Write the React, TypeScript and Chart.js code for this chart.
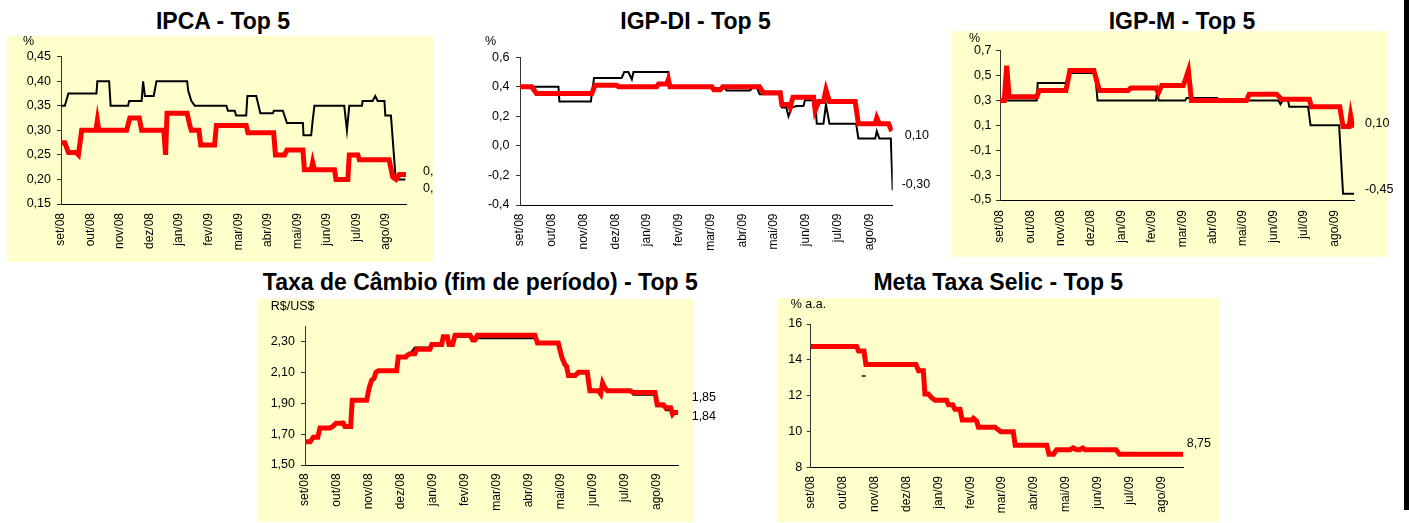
import React, { useEffect, useRef } from "react";
import { Chart, registerables } from "chart.js";

Chart.register(...registerables);

const FONT = '"Liberation Sans", Arial, Helvetica, sans-serif';
const RED = "#FF0000";
const BLACK = "#000000";
const YELLOW = "#FFFFCC";
const AXIS = "#333333";

type Pt = [number, number | null];

// x = months since set/08 (0 = set/08, 11 = ago/09)
const monthLabels = ["set/08", "out/08", "nov/08", "dez/08", "jan/09", "fev/09", "mar/09", "abr/09", "mai/09", "jun/09", "jul/09", "ago/09"];

// ---------- IPCA ----------
const ipcaTicks = [0.15, 0.2, 0.25, 0.3, 0.35, 0.4, 0.45];
const ipcaMediana: Pt[] = [
  [0, 0.35], [0.13, 0.35], [0.25, 0.375], [1.2, 0.375], [1.23, 0.4], [1.63, 0.4], [1.68, 0.35], [2.27, 0.35], [2.31, 0.36],
  [2.73, 0.36], [2.78, 0.4], [2.84, 0.37], [3.14, 0.37], [3.23, 0.4], [4.27, 0.4], [4.31, 0.38], [4.41, 0.36], [4.53, 0.35],
  [5.6, 0.35], [5.65, 0.34], [5.88, 0.34], [5.93, 0.33], [6.27, 0.33], [6.31, 0.37], [6.61, 0.37], [6.75, 0.335], [7.17, 0.335],
  [7.21, 0.34], [7.51, 0.34], [7.65, 0.315], [8.19, 0.315], [8.21, 0.29], [8.47, 0.29], [8.52, 0.32], [8.58, 0.35], [9.59, 0.35],
  [9.68, 0.3], [9.76, 0.35], [10.19, 0.35], [10.21, 0.36], [10.55, 0.36], [10.64, 0.37], [10.72, 0.36], [10.95, 0.36],
  [10.98, 0.33], [11.17, 0.33], [11.32, 0.21], [11.4, 0.2], [11.66, 0.2],
];
const ipcaTop5: Pt[] = [
  [0, 0.275], [0.13, 0.275], [0.25, 0.255], [0.51, 0.255], [0.59, 0.25], [0.7, 0.3], [1.18, 0.3], [1.23, 0.32], [1.28, 0.3],
  [2.22, 0.3], [2.33, 0.325], [2.65, 0.325], [2.73, 0.3], [3.48, 0.3], [3.54, 0.25], [3.59, 0.335], [4.27, 0.335], [4.36, 0.31],
  [4.41, 0.3], [4.67, 0.3], [4.73, 0.27], [5.2, 0.27], [5.26, 0.31], [6.27, 0.31], [6.33, 0.295], [7.2, 0.295], [7.26, 0.25],
  [7.57, 0.25], [7.65, 0.26], [8.19, 0.26], [8.24, 0.22], [8.47, 0.22], [8.52, 0.235], [8.58, 0.22], [9.26, 0.22], [9.31, 0.2],
  [9.71, 0.2], [9.76, 0.25], [10.05, 0.25], [10.1, 0.24], [11.11, 0.24], [11.23, 0.205], [11.34, 0.2], [11.45, 0.21], [11.68, 0.21],
];
const ipcaEndText = ["0,21", "0,20"];
const ipcaEndValues = [0.21, 0.2];

// ---------- IGP-DI ----------
const igpdiTicks = [-0.4, -0.2, 0, 0.2, 0.4, 0.6];
const igpdiMediana: Pt[] = [
  [0, 0.4], [1.21, 0.4], [1.24, 0.3], [2.23, 0.3], [2.33, 0.46], [3.2, 0.46], [3.28, 0.5], [3.41, 0.5], [3.52, 0.45], [3.57, 0.5],
  [4.67, 0.5], [4.7, 0.4], [5.98, 0.4], [6.04, 0.39], [6.45, 0.39], [6.51, 0.375], [7.24, 0.375], [7.35, 0.4], [7.45, 0.4],
  [7.54, 0.35], [8.19, 0.35], [8.24, 0.26], [8.38, 0.26], [8.45, 0.2], [8.55, 0.26], [8.7, 0.27], [8.92, 0.27], [8.97, 0.31],
  [9.29, 0.31], [9.34, 0.15], [9.55, 0.15], [9.63, 0.28], [9.74, 0.15], [10.58, 0.15], [10.65, 0.05], [11.18, 0.05], [11.23, 0.1],
  [11.31, 0.05], [11.67, 0.05], [11.73, -0.3],
];
const igpdiTop5: Pt[] = [
  [0, 0.4], [0.37, 0.4], [0.52, 0.355], [2.26, 0.355], [2.36, 0.41], [3.04, 0.41], [3.1, 0.4], [4.3, 0.4], [4.36, 0.42],
  [4.62, 0.42], [4.67, 0.45], [4.72, 0.4], [6.04, 0.4], [6.1, 0.38], [6.3, 0.38], [6.38, 0.4], [7.54, 0.4], [7.66, 0.36],
  [8.19, 0.36], [8.24, 0.28], [8.45, 0.28], [8.5, 0.26], [8.59, 0.33], [9.24, 0.33], [9.29, 0.24], [9.4, 0.3], [9.55, 0.3],
  [9.63, 0.38], [9.74, 0.3], [10.55, 0.3], [10.65, 0.15], [11.18, 0.15], [11.23, 0.19], [11.31, 0.15], [11.6, 0.15], [11.7, 0.1],
];
const igpdiEndText = ["0,10", "-0,30"];
const igpdiEndValues = [0.1, -0.3];

// ---------- IGP-M ----------
const igpmTicks = [-0.5, -0.3, -0.1, 0.1, 0.3, 0.5, 0.7];
const igpmMediana: Pt[] = [
  [0, 0.3], [1.21, 0.3], [1.24, 0.44], [2.17, 0.44], [2.28, 0.52], [3.13, 0.52], [3.21, 0.3], [5.13, 0.3], [5.18, 0.38],
  [5.22, 0.3], [6.09, 0.3], [6.14, 0.32], [7.15, 0.32], [7.19, 0.3], [9.16, 0.3], [9.23, 0.27], [9.3, 0.3], [9.48, 0.3],
  [9.52, 0.25], [10.14, 0.25], [10.22, 0.1], [11.16, 0.1], [11.29, -0.45], [11.66, -0.45],
];
const igpmTop5: Pt[] = [
  [0, 0.3], [0.14, 0.3], [0.22, 0.58], [0.3, 0.33], [1.21, 0.33], [1.29, 0.38], [2.17, 0.38], [2.3, 0.54], [3.09, 0.54],
  [3.27, 0.38], [4.22, 0.38], [4.3, 0.4], [5.13, 0.4], [5.21, 0.36], [5.32, 0.42], [6.03, 0.42], [6.12, 0.48], [6.2, 0.54],
  [6.3, 0.3], [8.11, 0.3], [8.2, 0.35], [9.1, 0.35], [9.27, 0.31], [10.18, 0.31], [10.25, 0.25], [11.18, 0.25], [11.29, 0.09],
  [11.49, 0.09], [11.54, 0.18], [11.6, 0.1], [11.66, 0.1],
];
const igpmEndText = ["0,10", "-0,45"];
const igpmEndValues = [0.1, -0.45];

// ---------- Taxa de Câmbio ----------
const cambioTicks = [1.5, 1.6, 1.7, 1.8, 1.9, 2.0, 2.1, 2.2, 2.3, 2.4];
const cambioMediana: Pt[] = [
  [0, 1.65], [0.16, 1.65], [0.26, 1.68], [0.4, 1.68], [0.47, 1.74], [0.78, 1.74], [0.87, 1.75], [0.97, 1.77], [1.2, 1.78],
  [1.25, 1.75], [1.43, 1.75], [1.48, 1.92], [1.93, 1.92], [2.01, 2.0], [2.09, 2.05], [2.16, 2.06], [2.22, 2.1], [2.3, 2.11],
  [2.87, 2.11], [2.92, 2.2], [3.16, 2.2], [3.2, 2.21], [3.29, 2.22], [3.44, 2.26], [3.91, 2.26], [3.97, 2.28], [4.28, 2.28],
  [4.33, 2.33], [4.46, 2.33], [4.51, 2.28], [4.62, 2.28], [4.7, 2.33], [5.17, 2.33], [5.25, 2.31], [5.32, 2.31], [5.4, 2.32],
  [7.2, 2.32], [7.28, 2.29], [7.93, 2.29], [8.04, 2.18], [8.14, 2.16], [8.19, 2.12], [8.25, 2.08], [8.46, 2.08], [8.56, 2.1],
  [8.84, 2.1], [8.92, 1.98], [9.19, 1.98], [9.26, 1.95], [9.32, 2.02], [9.39, 2.0], [9.47, 1.98], [10.18, 1.98], [10.28, 1.955],
  [10.96, 1.955], [11.03, 1.88], [11.22, 1.88], [11.3, 1.855], [11.45, 1.855], [11.51, 1.82], [11.56, 1.85], [11.69, 1.85],
];
const cambioTop5: Pt[] = [
  [0, 1.65], [0.16, 1.65], [0.26, 1.68], [0.4, 1.68], [0.47, 1.74], [0.78, 1.74], [0.87, 1.75], [0.97, 1.77], [1.2, 1.77],
  [1.25, 1.75], [1.43, 1.75], [1.48, 1.92], [1.93, 1.92], [2.01, 2.0], [2.09, 2.05], [2.16, 2.06], [2.22, 2.1], [2.3, 2.11],
  [2.87, 2.11], [2.92, 2.2], [3.16, 2.2], [3.2, 2.21], [3.29, 2.22], [3.44, 2.22], [3.5, 2.25], [3.91, 2.25], [3.97, 2.28],
  [4.28, 2.28], [4.33, 2.33], [4.46, 2.33], [4.51, 2.28], [4.62, 2.28], [4.7, 2.34], [5.17, 2.34], [5.25, 2.31], [5.32, 2.31],
  [5.4, 2.34], [7.2, 2.34], [7.28, 2.29], [7.93, 2.29], [8.04, 2.2], [8.14, 2.15], [8.19, 2.14], [8.25, 2.08], [8.46, 2.08],
  [8.56, 2.1], [8.84, 2.1], [8.92, 1.98], [9.19, 1.98], [9.26, 1.96], [9.32, 2.03], [9.39, 2.0], [9.47, 1.98], [10.18, 1.98],
  [10.28, 1.97], [10.96, 1.97], [11.03, 1.89], [11.22, 1.89], [11.3, 1.87], [11.45, 1.87], [11.51, 1.83], [11.56, 1.84], [11.69, 1.84],
];
const cambioEndText = ["1,85", "1,84"];
const cambioEndValues = [1.85, 1.84];

// ---------- Meta Taxa Selic ----------
const selicTicks = [8, 9, 10, 11, 12, 13, 14, 15, 16];
const selicMediana: Pt[] = [[1.6, 13.1], [1.72, 13.1]];
const selicTop5: Pt[] = [
  [0, 14.75], [1.44, 14.75], [1.5, 14.5], [1.67, 14.5], [1.73, 13.75], [3.3, 13.75], [3.38, 13.4], [3.53, 13.4], [3.58, 12.1],
  [3.69, 12.1], [3.74, 12.0], [3.79, 11.9], [3.9, 11.75], [4.26, 11.75], [4.32, 11.5], [4.45, 11.5], [4.52, 11.25], [4.68, 11.25],
  [4.75, 10.65], [5.05, 10.65], [5.1, 10.75], [5.2, 10.6], [5.26, 10.25], [5.78, 10.25], [5.85, 10.15], [5.96, 10.0], [6.35, 10.0],
  [6.41, 9.25], [7.4, 9.25], [7.47, 8.75], [7.61, 8.75], [7.71, 9.0], [8.13, 9.0], [8.23, 9.1], [8.34, 9.0], [8.44, 9.0],
  [8.53, 9.1], [8.6, 9.0], [9.57, 9.0], [9.68, 8.75], [11.68, 8.75],
];
const selicEndText = ["8,75"];
const selicEndValues = [8.75];

// ---------- layout ----------
type Rect = { l: number; t: number; w: number; h: number };
type Series = { label: string; data: Pt[]; color: string; width: number };
type PanelCfg = {
  title: string;
  titleCx: number;
  titleBaseline: number;
  unit: string;
  unitX: number;
  unitBaseline: number;
  box: Rect | null;
  canvas: Rect;
  plot: { l: number; t: number; r: number; b: number };
  xMax: number;
  yTicks: number[];
  decimals: number;
  tickPad: number;
  xPad: number;
  series: Series[];
  endText: string[];
  endValues: number[];
  endDx: number[];
  endDy: number[];
};

const panels: PanelCfg[] = [
  {
    title: "IPCA - Top 5", titleCx: 223, titleBaseline: 29,
    unit: "%", unitX: 23, unitBaseline: 45,
    box: { l: 7, t: 36, w: 426, h: 226 },
    canvas: { l: 7, t: 36, w: 426, h: 226 },
    plot: { l: 61, t: 56.7, r: 406, b: 204 },
    xMax: 11.68, yTicks: ipcaTicks, decimals: 2, tickPad: 6, xPad: 9,
    series: [
      { label: "Top 5", data: ipcaTop5, color: RED, width: 5 },
      { label: "Mediana", data: ipcaMediana, color: BLACK, width: 2 },
    ],
    endText: ipcaEndText, endValues: ipcaEndValues, endDx: [17, 17], endDy: [-3, 9],
  },
  {
    title: "IGP-DI - Top 5", titleCx: 695.5, titleBaseline: 29,
    unit: "%", unitX: 485, unitBaseline: 45,
    box: null,
    canvas: { l: 470, t: 36, w: 470, h: 230 },
    plot: { l: 520, t: 57.3, r: 892.7, b: 205 },
    xMax: 11.73, yTicks: igpdiTicks, decimals: 1, tickPad: 6.5, xPad: 8.5,
    series: [
      { label: "Top 5", data: igpdiTop5, color: RED, width: 5 },
      { label: "Mediana", data: igpdiMediana, color: BLACK, width: 2 },
    ],
    endText: igpdiEndText, endValues: igpdiEndValues, endDx: [12, 9], endDy: [4.5, -6],
  },
  {
    title: "IGP-M - Top 5", titleCx: 1182, titleBaseline: 29,
    unit: "%", unitX: 969, unitBaseline: 41.5,
    box: { l: 952, t: 31, w: 435, h: 226 },
    canvas: { l: 952, t: 31, w: 450, h: 226 },
    plot: { l: 1000, t: 50.7, r: 1354.3, b: 200 },
    xMax: 11.66, yTicks: igpmTicks, decimals: 1, tickPad: 4.5, xPad: 10,
    series: [
      { label: "Top 5", data: igpmTop5, color: RED, width: 5 },
      { label: "Mediana", data: igpmMediana, color: BLACK, width: 2 },
    ],
    endText: igpmEndText, endValues: igpmEndValues, endDx: [10.7, 10.7], endDy: [-1.7, -4.6],
  },
  {
    title: "Taxa de Câmbio (fim de período) - Top 5", titleCx: 480.3, titleBaseline: 290.7,
    unit: "R$/US$", unitX: 270.7, unitBaseline: 310,
    box: { l: 257, t: 299, w: 436, h: 223 },
    canvas: { l: 257, t: 299, w: 468, h: 223 },
    plot: { l: 305, t: 326, r: 678.3, b: 465 },
    xMax: 11.69, yTicks: cambioTicks, decimals: 2, tickPad: 6, xPad: 8.3,
    series: [
      { label: "Top 5", data: cambioTop5, color: RED, width: 5 },
      { label: "Mediana", data: cambioMediana, color: BLACK, width: 2 },
    ],
    endText: cambioEndText, endValues: cambioEndValues, endDx: [13.4, 13.4], endDy: [-13.2, 4.2],
  },
  {
    title: "Meta Taxa Selic - Top 5", titleCx: 998.3, titleBaseline: 290.7,
    unit: "% a.a.", unitX: 790.7, unitBaseline: 308,
    box: { l: 778, t: 298, w: 442, h: 224 },
    canvas: { l: 778, t: 298, w: 442, h: 224 },
    plot: { l: 810.7, t: 324, r: 1183.3, b: 467.7 },
    xMax: 11.68, yTicks: selicTicks, decimals: 0, tickPad: 4.5, xPad: 8.3,
    series: [
      { label: "Top 5", data: selicTop5, color: RED, width: 5 },
      { label: "Mediana", data: selicMediana, color: BLACK, width: 1.5 },
    ],
    endText: selicEndText, endValues: selicEndValues, endDx: [3.4], endDy: [-10.9],
  },
];

const panelTextPlugin = {
  id: "panelText",
  afterDraw(chart: any, _args: any, opts: any) {
    const { ctx, chartArea, scales } = chart;
    ctx.save();
    ctx.fillStyle = "#000";
    ctx.font = `12.5px ${FONT}`;
    ctx.textAlign = "left";
    ctx.textBaseline = "alphabetic";
    ctx.fillText(opts.unit, opts.unitX, opts.unitY);
    ctx.textBaseline = "middle";
    (opts.texts as string[]).forEach((t, i) => {
      const y = scales.y.getPixelForValue(opts.values[i]) + opts.dy[i];
      ctx.fillText(t, chartArea.right + opts.dx[i], y);
    });
    ctx.restore();
  },
};

function Panel({ cfg }: { cfg: PanelCfg }) {
  const ref = useRef<HTMLCanvasElement | null>(null);
  useEffect(() => {
    const canvas = ref.current;
    if (!canvas) return;
    const cv = cfg.canvas;
    const p = cfg.plot;
    const fmt = (v: any) => Number(v).toFixed(cfg.decimals).replace(".", ",");
    const chart = new Chart(canvas, {
      type: "line",
      data: {
        datasets: cfg.series.map((s) => ({
          label: s.label,
          data: s.data.map(([x, y]) => ({ x, y })),
          borderColor: s.color,
          backgroundColor: s.color,
          borderWidth: s.width,
          pointRadius: 0,
          pointHoverRadius: 0,
          fill: false,
          tension: 0,
          spanGaps: false,
        })),
      } as any,
      options: {
        animation: false,
        responsive: false,
        maintainAspectRatio: false,
        events: [],
        layout: {
          padding: { left: 0, top: p.t - cv.t, right: cv.l + cv.w - p.r, bottom: 0 },
        },
        plugins: {
          legend: { display: false },
          tooltip: { enabled: false },
          title: { display: false },
          panelText: {
            unit: cfg.unit,
            unitX: cfg.unitX - cv.l,
            unitY: cfg.unitBaseline - cv.t,
            texts: cfg.endText,
            values: cfg.endValues,
            dx: cfg.endDx,
            dy: cfg.endDy,
          },
        } as any,
        scales: {
          x: {
            type: "linear",
            min: 0,
            max: cfg.xMax,
            grid: { display: false, drawTicks: false },
            border: { display: true, color: "#000", width: 1 },
            ticks: {
              autoSkip: false,
              minRotation: 90,
              maxRotation: 90,
              padding: cfg.xPad,
              color: "#000",
              font: { family: FONT, size: 12 },
              callback: (v: any) => monthLabels[Math.round(Number(v))] ?? "",
            },
            afterBuildTicks: (s: any) => {
              s.ticks = monthLabels.map((_, i) => ({ value: i }));
            },
            afterFit: (s: any) => {
              s.height = cv.t + cv.h - p.b;
            },
          },
          y: {
            type: "linear",
            min: cfg.yTicks[0],
            max: cfg.yTicks[cfg.yTicks.length - 1],
            grid: { display: true, drawOnChartArea: false, drawTicks: true, tickLength: 4, color: AXIS },
            border: { display: true, color: AXIS, width: 1 },
            ticks: {
              padding: cfg.tickPad,
              color: "#000",
              font: { family: FONT, size: 12.5 },
              callback: (v: any) => fmt(v),
            },
            afterBuildTicks: (s: any) => {
              s.ticks = cfg.yTicks.map((v) => ({ value: v }));
            },
            afterFit: (s: any) => {
              s.width = p.l - cv.l;
            },
          },
        } as any,
      },
      plugins: [panelTextPlugin as any],
    });
    return () => chart.destroy();
  }, [cfg]);

  const cv = cfg.canvas;
  return (
    <>
      {cfg.box && (
        <div
          style={{
            position: "absolute",
            left: cfg.box.l,
            top: cfg.box.t,
            width: cfg.box.w,
            height: cfg.box.h,
            background: YELLOW,
          }}
        />
      )}
      <div
        style={{
          position: "absolute",
          left: cfg.titleCx - 300,
          width: 600,
          top: cfg.titleBaseline - 19.5,
          height: 23,
          lineHeight: "23px",
          fontSize: 23,
          fontWeight: "bold",
          fontFamily: FONT,
          color: "#000",
          textAlign: "center",
          whiteSpace: "nowrap",
        }}
      >
        {cfg.title}
      </div>
      <canvas
        ref={ref}
        width={cv.w}
        height={cv.h}
        style={{ position: "absolute", left: cv.l, top: cv.t, width: cv.w, height: cv.h }}
      />
    </>
  );
}

export default function App() {
  return (
    <div
      style={{
        position: "absolute",
        left: 0,
        top: 0,
        width: 1409,
        height: 523,
        background: "#fff",
        overflow: "hidden",
        fontFamily: FONT,
      }}
    >
      {panels.map((c) => (
        <Panel key={c.title} cfg={c} />
      ))}
      <div style={{ position: "absolute", left: 1404, top: 0, width: 5, height: 510, background: "#000" }} />
    </div>
  );
}
